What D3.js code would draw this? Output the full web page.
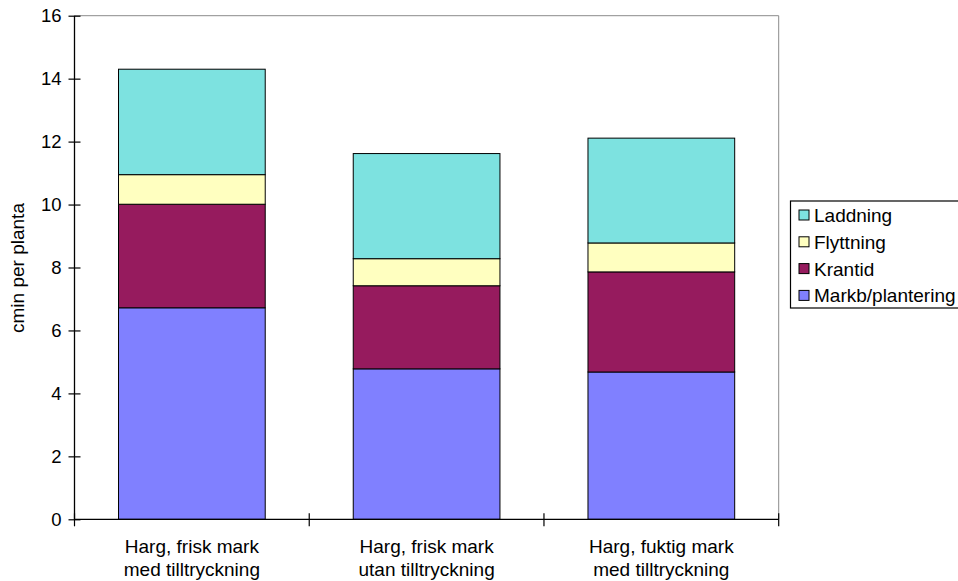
<!DOCTYPE html>
<html>
<head>
<meta charset="utf-8">
<script src="https://cdn.jsdelivr.net/npm/d3@7"></script>
<style>
  html, body { margin: 0; padding: 0; background: #fff; }
  svg { display: block; font-family: "Liberation Sans", Arial, sans-serif; }
</style>
</head>
<body>
<svg id="chart" width="958" height="581"></svg>
<script>
// Categories (two text lines each) and stacked series, bottom to top
const categories = [
  "Harg, frisk mark|med tilltryckning",
  "Harg, frisk mark|utan tilltryckning",
  "Harg, fuktig mark|med tilltryckning"
];
const markbPlantering = [6.72, 4.78, 4.68];
const krantid         = [3.29, 2.64, 3.18];
const flyttning       = [0.94, 0.86, 0.92];
const laddning        = [3.35, 3.34, 3.33];

const seriesNames  = ["Markb/plantering", "Krantid", "Flyttning", "Laddning"];
const seriesColors = ["#8080FF", "#961B5E", "#FFFFC0", "#7DE2E0"];
const yTicks = [0, 2, 4, 6, 8, 10, 12, 14, 16];
const yLabel = "cmin per planta";

const rows = categories.map((c, i) => ({
  cat: c,
  "Markb/plantering": markbPlantering[i],
  "Krantid": krantid[i],
  "Flyttning": flyttning[i],
  "Laddning": laddning[i]
}));

const svg = d3.select("#chart");
const plot = { left: 74.5, right: 778.7, top: 15.7, bottom: 519.3 };

const x = d3.scaleBand()
  .domain(categories)
  .range([plot.left, plot.right])
  .paddingInner(0.375)
  .paddingOuter(0.1875);

const y = d3.scaleLinear().domain([0, 16]).range([plot.bottom, plot.top]);

const color = d3.scaleOrdinal().domain(seriesNames).range(seriesColors);

// Plot frame: grey top and right edges
svg.append("path")
  .attr("d", `M${plot.left},${plot.top}H${plot.right}V${plot.bottom}`)
  .attr("fill", "none")
  .attr("stroke", "#8c8c8c")
  .attr("stroke-width", 1);

// Stacked bars
const stacked = d3.stack().keys(seriesNames)(rows);
svg.append("g").selectAll("g")
  .data(stacked)
  .join("g")
  .attr("fill", d => color(d.key))
  .selectAll("rect")
  .data(d => d)
  .join("rect")
  .attr("x", d => x(d.data.cat))
  .attr("width", x.bandwidth())
  .attr("y", d => y(d[1]))
  .attr("height", d => y(d[0]) - y(d[1]))
  .attr("stroke", "#000")
  .attr("stroke-width", 1);

// Y axis with ticks crossing the axis line
const yAxis = svg.append("g")
  .attr("transform", `translate(${plot.left},0)`)
  .call(d3.axisLeft(y).tickValues(yTicks).tickSize(6).tickPadding(7));
yAxis.select(".domain").attr("stroke", "#000").attr("stroke-width", 1.3)
  .attr("d", `M0,${plot.top}V${plot.bottom}`);
yAxis.selectAll(".tick line").attr("x1", -6).attr("x2", 6).attr("stroke", "#000").attr("stroke-width", 1.2);
yAxis.selectAll(".tick text")
  .attr("x", -13)
  .attr("fill", "#000")
  .style("font-size", "18.5px")
  .style("font-family", "'Liberation Sans', Arial, sans-serif");

// X axis: baseline, boundary ticks and two-line category labels
const xAxis = svg.append("g")
  .attr("transform", `translate(0,${plot.bottom})`)
  .call(d3.axisBottom(x).tickSize(0).tickPadding(0));
xAxis.select(".domain").attr("stroke", "#000").attr("stroke-width", 1.3)
  .attr("d", `M${plot.left},0H${plot.right}`);
xAxis.selectAll(".tick text").remove();
xAxis.selectAll(".tick").each(function (d) {
  const t = d3.select(this).append("text")
    .attr("fill", "#000")
    .attr("text-anchor", "middle")
    .style("font-size", "19px")
    .style("font-family", "'Liberation Sans', Arial, sans-serif");
  d.split("|").forEach((line, i) => {
    t.append("tspan").attr("x", 0).attr("y", 34 + i * 23).text(line);
  });
});
const boundaries = [plot.left]
  .concat(categories.map(c => x(c) + x.bandwidth() + x.step() * x.paddingInner() / 2));
boundaries[boundaries.length - 1] = plot.right;
xAxis.selectAll(".bound")
  .data(boundaries)
  .join("line")
  .attr("class", "bound")
  .attr("x1", d => d).attr("x2", d => d)
  .attr("y1", -6).attr("y2", 7)
  .attr("stroke", "#000").attr("stroke-width", 1.2);

// Y axis title
svg.append("text")
  .attr("transform", `translate(24,268) rotate(-90)`)
  .attr("text-anchor", "middle")
  .attr("fill", "#000")
  .style("font-size", "19px")
  .text(yLabel);

// Legend, top entry is the top stack
const legend = svg.append("g").attr("transform", "translate(790.5,201)");
legend.append("rect")
  .attr("x", 0).attr("y", 0).attr("width", 175).attr("height", 107)
  .attr("fill", "#fff").attr("stroke", "#000").attr("stroke-width", 1.2);
const legendItems = seriesNames.slice().reverse();
const li = legend.selectAll(".li")
  .data(legendItems)
  .join("g")
  .attr("class", "li")
  .attr("transform", (d, i) => `translate(0,${14 + i * 26.8})`);
li.append("rect")
  .attr("x", 8.5).attr("y", -5).attr("width", 10).attr("height", 10)
  .attr("fill", d => color(d)).attr("stroke", "#000").attr("stroke-width", 1);
li.append("text")
  .attr("x", 23.5).attr("y", 7)
  .attr("fill", "#000")
  .style("font-size", "19px")
  .text(d => d);
</script>
</body>
</html>
